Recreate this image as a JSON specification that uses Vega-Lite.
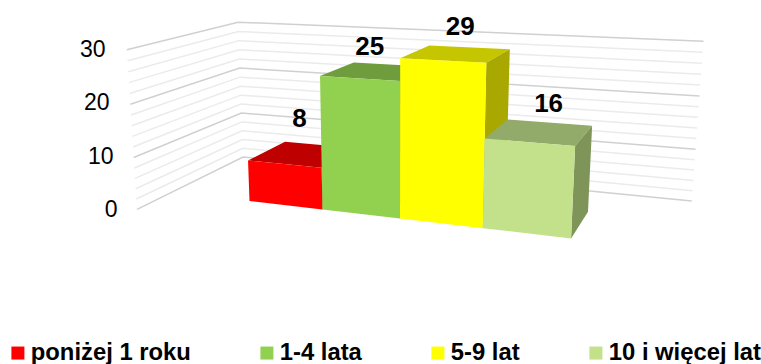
{
  "$schema": "https://vega.github.io/schema/vega-lite/v6.json",
  "width": 641,
  "height": 364,
  "autosize": "none",
  "padding": {"left": 120, "top": 0, "right": 0, "bottom": 0},
  "background": "white",
  "view": {"stroke": null},
  "config": {"font": "Liberation Sans"},
  "datasets": {
    "bars": [
      {"category": "poniżej 1 roku", "value": 8},
      {"category": "1-4 lata", "value": 25},
      {"category": "5-9 lat", "value": 29},
      {"category": "10 i więcej lat", "value": 16}
    ],
    "grid": [
      {"level": 0}, {"level": 2}, {"level": 4}, {"level": 6}, {"level": 8}, {"level": 10},
      {"level": 12}, {"level": 14}, {"level": 16}, {"level": 18}, {"level": 20},
      {"level": 22}, {"level": 24}, {"level": 26}, {"level": 28}, {"level": 30}
    ]
  },
  "resolve": {"scale": {"fill": "independent"}},
  "layer": [
    {
      "data": {"name": "grid"},
      "transform": [
        {"calculate": "[-1.13,-1.13,5.1]", "as": "u"},
        {"calculate": "[-0.77,1.85,1.85]", "as": "d"},
        {"calculate": "[0,1,2]", "as": "corner"},
        {"flatten": ["u", "d", "corner"]},
        {"calculate": "1-0.03*datum.u+0.0716*datum.d-0.00124*datum.level", "as": "w"},
        {"calculate": "(249.5+63.26*datum.u+57*datum.d-0.49*datum.level)/datum.w", "as": "sx"},
        {"calculate": "(210-(201+2.22*datum.u-8.3*datum.d-5.27*datum.level)/datum.w)/5.35", "as": "sy"}
      ],
      "mark": {"type": "line", "strokeWidth": 1.5, "clip": false},
      "encoding": {
        "x": {"field": "sx", "type": "quantitative", "scale": {"domain": [120, 761], "nice": false, "zero": false}, "axis": null},
        "y": {
          "field": "sy", "type": "quantitative",
          "scale": {"domain": [-28.79, 39.25], "nice": false, "zero": false},
          "axis": {
            "values": [0, 10, 20, 30], "title": null, "domain": false, "ticks": false, "grid": false,
            "labelFontSize": 23, "labelColor": "#000000", "labelPadding": 3, "labelFont": "Liberation Sans",
            "encoding": {"labels": {"dx": {"value": {"signal": "-0.4*datum.value"}}}}
          }
        },
        "detail": {"field": "level", "type": "nominal"},
        "order": {"field": "corner", "type": "quantitative"},
        "stroke": {"condition": {"test": "datum.level % 10 === 0", "value": "#d0d0d0"}, "value": "#ebebeb"}
      }
    },
    {
      "data": {"name": "bars"},
      "transform": [
        {"calculate": "indexof(['poniżej 1 roku','1-4 lata','5-9 lat','10 i więcej lat'],datum.category)", "as": "pos"},
        {"calculate": "[0,1,1,0,1,1,1,1]", "as": "du"},
        {"calculate": "[0,0,1,1,0,1,1,0]", "as": "d"},
        {"calculate": "[1,1,1,1,0,0,1,1]", "as": "vf"},
        {"calculate": "['top','top','top','top','side','side','side','side']", "as": "face"},
        {"calculate": "[0,1,2,3,4,5,6,7]", "as": "corner"},
        {"flatten": ["du", "d", "vf", "face", "corner"]},
        {"calculate": "datum.pos+datum.du", "as": "u"},
        {"calculate": "datum.value*datum.vf", "as": "v"},
        {"calculate": "datum.category+' '+datum.face", "as": "paint"},
        {"calculate": "1-0.03*datum.u+0.0716*datum.d-0.00124*datum.v", "as": "w"},
        {"calculate": "(249.5+63.26*datum.u+57*datum.d-0.49*datum.v)/datum.w", "as": "sx"},
        {"calculate": "(210-(201+2.22*datum.u-8.3*datum.d-5.27*datum.v)/datum.w)/5.35", "as": "sy"}
      ],
      "mark": {"type": "line", "strokeWidth": 0, "clip": false},
      "encoding": {
        "x": {"field": "sx", "type": "quantitative"},
        "y": {"field": "sy", "type": "quantitative"},
        "detail": {"field": "paint", "type": "nominal"},
        "order": {"field": "corner", "type": "quantitative"},
        "fill": {
          "field": "paint", "type": "nominal", "legend": null,
          "scale": {
            "domain": ["poniżej 1 roku top", "poniżej 1 roku side", "1-4 lata top", "1-4 lata side", "5-9 lat top", "5-9 lat side", "10 i więcej lat top", "10 i więcej lat side"],
            "range": ["#bf0000", "#a80000", "#6f9c3c", "#608a35", "#c6c600", "#a8a800", "#93ab6a", "#7f9459"]
          }
        }
      }
    },
    {
      "data": {"name": "bars"},
      "transform": [
        {"calculate": "indexof(['poniżej 1 roku','1-4 lata','5-9 lat','10 i więcej lat'],datum.category)", "as": "pos"},
        {"calculate": "[0,1,1,0]", "as": "du"},
        {"calculate": "[0,0,1,1]", "as": "vf"},
        {"calculate": "[0,1,2,3]", "as": "corner"},
        {"flatten": ["du", "vf", "corner"]},
        {"calculate": "datum.pos+datum.du", "as": "u"},
        {"calculate": "datum.value*datum.vf", "as": "v"},
        {"calculate": "1-0.03*datum.u-0.00124*datum.v", "as": "w"},
        {"calculate": "(249.5+63.26*datum.u-0.49*datum.v)/datum.w", "as": "sx"},
        {"calculate": "(210-(201+2.22*datum.u-5.27*datum.v)/datum.w)/5.35", "as": "sy"}
      ],
      "mark": {"type": "line", "strokeWidth": 0, "clip": false},
      "encoding": {
        "x": {"field": "sx", "type": "quantitative"},
        "y": {"field": "sy", "type": "quantitative"},
        "detail": {"field": "category", "type": "nominal"},
        "order": {"field": "corner", "type": "quantitative"},
        "fill": {
          "field": "category", "type": "nominal",
          "scale": {
            "domain": ["poniżej 1 roku", "1-4 lata", "5-9 lat", "10 i więcej lat"],
            "range": ["#ff0000", "#92d050", "#ffff00", "#c3e08b"]
          },
          "legend": {
            "orient": "none", "legendX": -114, "legendY": 341, "direction": "horizontal", "columns": 4,
            "title": null, "symbolType": "square", "symbolSize": 169, "symbolStrokeWidth": 0,
            "labelFontSize": 23.8, "labelFontWeight": "bold", "labelColor": "#000000", "labelLimit": 300,
            "columnPadding": 64, "labelOffset": 1, "labelFont": "Liberation Sans"
          }
        }
      }
    },
    {
      "data": {"name": "bars"},
      "transform": [
        {"calculate": "indexof(['poniżej 1 roku','1-4 lata','5-9 lat','10 i więcej lat'],datum.category)", "as": "pos"},
        {"calculate": "datum.pos+0.5", "as": "u"},
        {"calculate": "1-0.03*datum.u+0.0358-0.00124*datum.value", "as": "w"},
        {"calculate": "(249.5+63.26*datum.u+28.5-0.49*datum.value)/datum.w+[-3,-6,4,9][datum.pos]", "as": "sx"},
        {"calculate": "(210-(201+2.22*datum.u-4.15-5.27*datum.value)/datum.w+[35,24,27,28][datum.pos])/5.35", "as": "sy"}
      ],
      "mark": {"type": "text", "fontSize": 26, "fontWeight": "bold", "color": "#000000", "baseline": "middle", "align": "center", "font": "Liberation Sans"},
      "encoding": {
        "x": {"field": "sx", "type": "quantitative"},
        "y": {"field": "sy", "type": "quantitative"},
        "text": {"field": "value", "type": "quantitative"}
      }
    }
  ]
}
